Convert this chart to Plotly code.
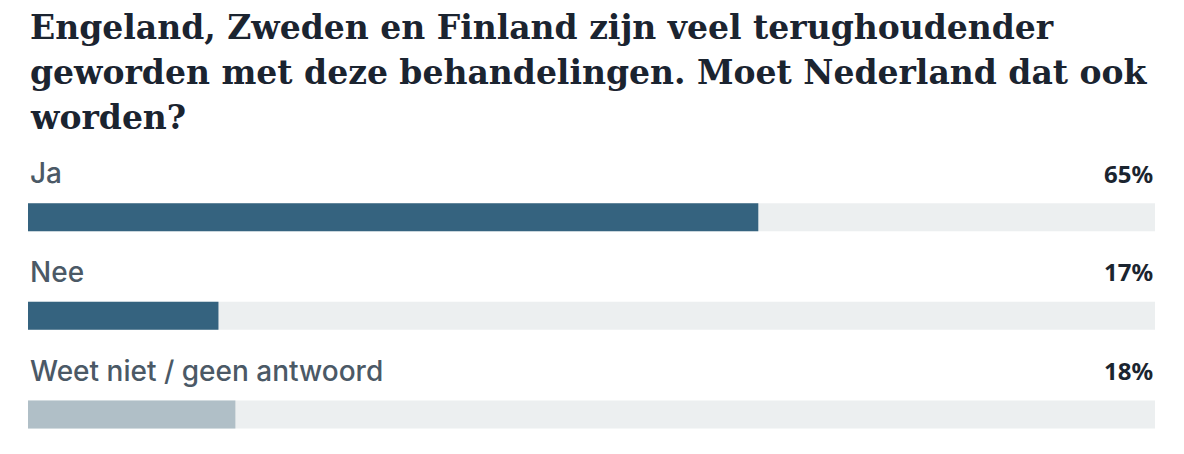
import plotly.graph_objects as go

# poll question and answers
question_lines = [
    "Engeland, Zweden en Finland zijn veel terughoudender",
    "geworden met deze behandelingen. Moet Nederland dat ook",
    "worden?",
]
answers = ["Ja", "Nee", "Weet niet / geen antwoord"]
percentages = [64.8, 16.9, 18.4]
bar_colors = ["#35637f", "#35637f", "#b0bfc7"]

positions = list(range(len(answers)))

fig = go.Figure()

# grey track behind every answer
fig.add_trace(go.Bar(
    x=[100] * len(answers), y=positions, orientation="h",
    marker=dict(color="#eceff0", line=dict(width=0)),
    width=0.283, hoverinfo="skip", showlegend=False,
))
fig.add_trace(go.Bar(
    x=percentages, y=positions, orientation="h",
    marker=dict(color=bar_colors, line=dict(width=0)),
    width=0.283, showlegend=False,
    hovertemplate="%{x:.0f}%<extra></extra>",
))

for pos, answer, pct in zip(positions, answers, percentages):
    fig.add_annotation(
        x=0, y=pos - 0.445, xref="x", yref="y", text=answer,
        showarrow=False, xanchor="left", yanchor="middle", xshift=0,
        font=dict(family="Inter", size=28, weight=500, color="#4b5966"),
    )
    fig.add_annotation(
        x=100, y=pos - 0.445, xref="x", yref="y", text="<b>%d%%</b>" % round(pct),
        showarrow=False, xanchor="right", yanchor="middle",
        font=dict(family="Noto Sans", size=24, color="#1b2530"),
    )

# title, one annotation per line so the line spacing can be set
for i, line in enumerate(question_lines):
    fig.add_annotation(
        x=0, y=1, xref="paper", yref="paper", text="<b>%s</b>" % line,
        showarrow=False, xanchor="left", yanchor="top",
        yshift=152 - 45 * i,
        font=dict(family="DejaVu Serif", size=33, color="#1b2430"),
    )

fig.update_layout(
    width=1184, height=454,
    margin=dict(l=20, r=37, t=150, b=13),
    barmode="overlay",
    plot_bgcolor="white", paper_bgcolor="white",
    xaxis=dict(range=[0, 100], visible=False, fixedrange=True),
    yaxis=dict(range=[2.35, -0.6], visible=False, fixedrange=True),
)

fig.write_html("out.html")
